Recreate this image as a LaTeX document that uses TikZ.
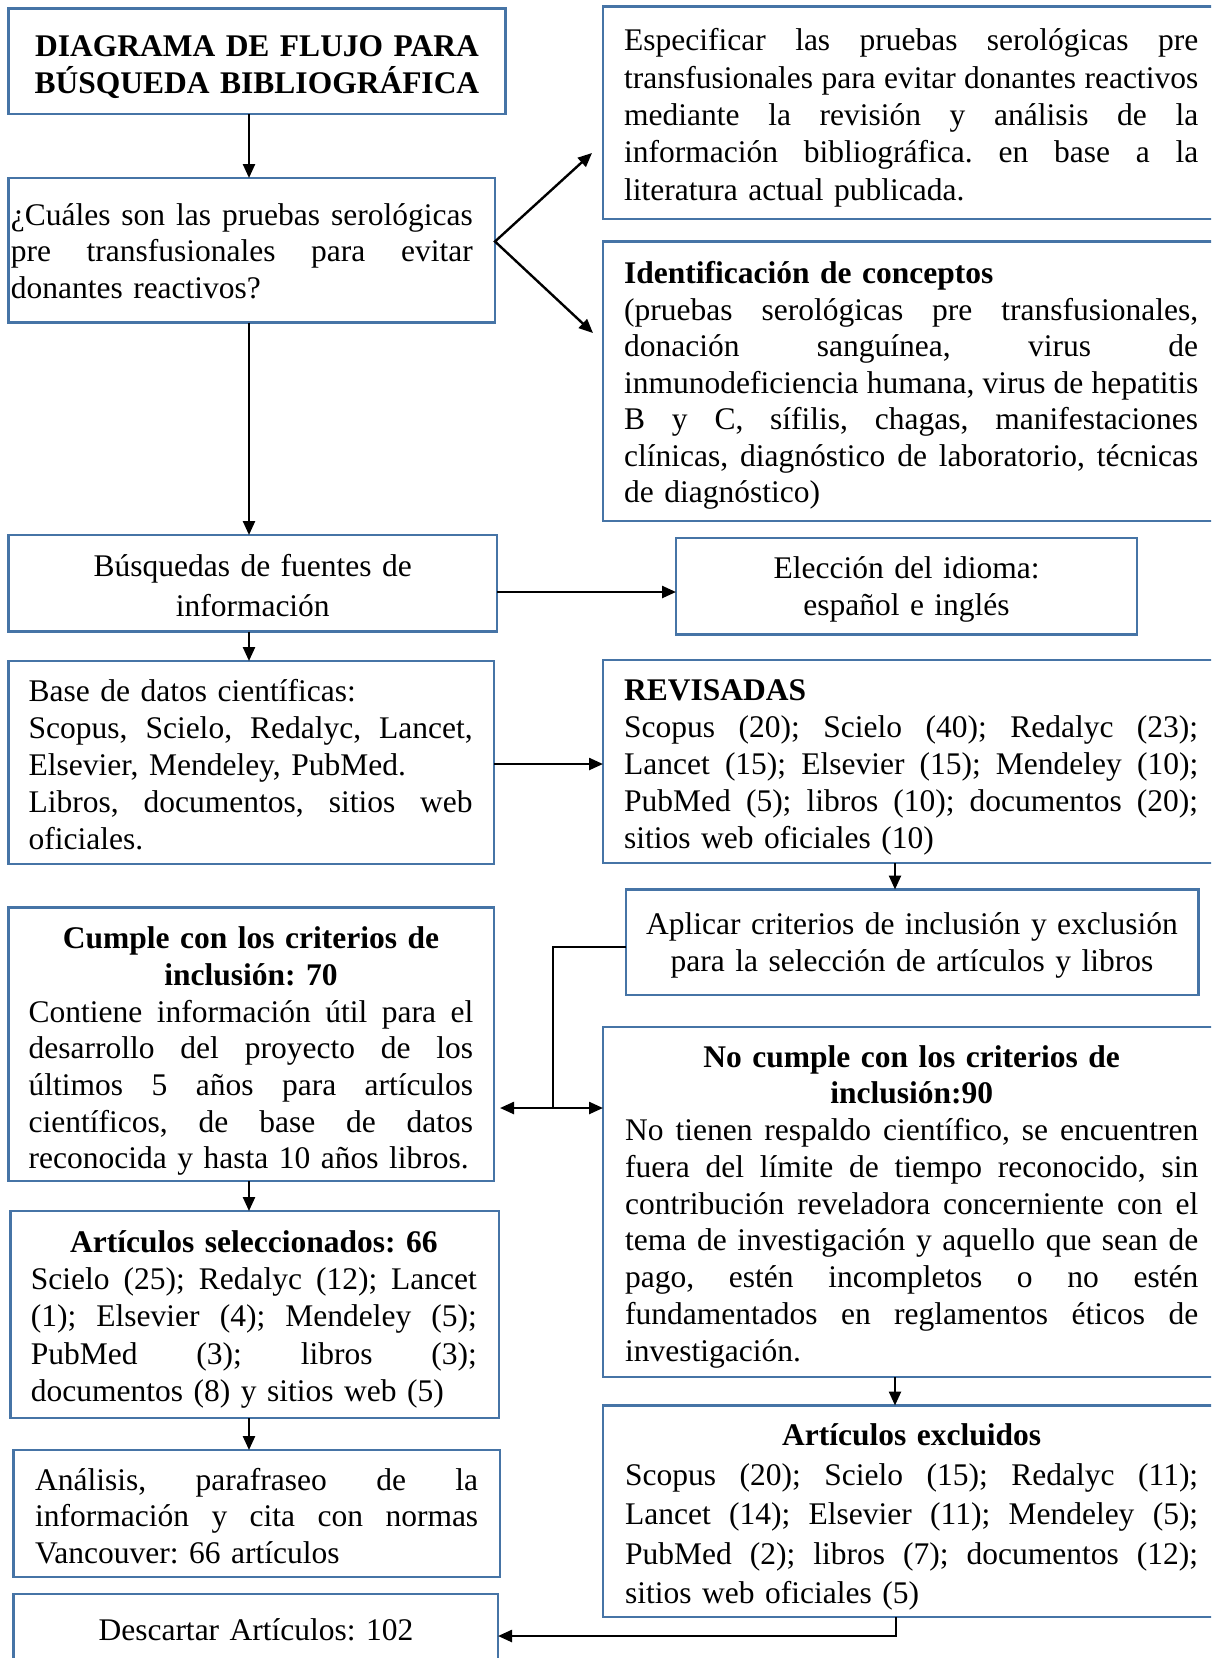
\documentclass[tikz,border=0pt]{standalone}
\usepackage{fontspec}
\setmainfont{Liberation Serif}
\usetikzlibrary{arrows.meta}
\definecolor{boxblue}{RGB}{70,116,166}
\newcommand\jl[1]{{\spaceskip=0.25em plus 10em\xspaceskip=0.25em plus 10em\makebox[\hsize][s]{#1}}}
\newcommand\ctr[1]{\makebox[\hsize][c]{#1}}
\newcommand\fs[1]{\fontsize{31.5}{#1}\selectfont\frenchspacing}
\newcommand\bx[5]{\node[box, minimum width={#4pt-#2pt}, minimum height={#5pt-#3pt}] (#1) at (#2,#3) {};}
\begin{document}
\begin{tikzpicture}[x=1pt,y=-1pt,
  box/.style={draw=boxblue, line width=2.4pt, inner sep=0pt, outer sep=0pt, rectangle, anchor=north west},
  jtext/.style={inner sep=0pt, anchor=base west, align=left},
  ctext/.style={inner sep=0pt, anchor=base, align=center},
  tip/.tip={Triangle[length=14pt,width=12pt]},
  arr/.style={line width=2.4pt, -tip},
  darr/.style={line width=2.4pt, tip-tip},
  plainline/.style={line width=1.6pt}
]
\useasboundingbox (0,0) rectangle (1211,1658);
\fill[white] (0,0) rectangle (1211,1658);
\clip (0,0) rectangle (1211,1658);

% boxes
\bx{title}{8.5}{8.5}{505.5}{114}
\bx{q}{8.5}{178}{495}{322.5}
\bx{A}{603}{6.5}{1219}{219}
\bx{B}{603}{241.5}{1219}{521}
\bx{bus}{8.5}{535}{497}{631.5}
\bx{ele}{676}{538}{1137}{634.5}
\bx{base}{8.5}{661}{494}{864}
\bx{rev}{603}{660}{1219}{863}
\bx{apl}{626}{889.5}{1198.5}{995}
\bx{cum}{8.5}{907.5}{494}{1181}
\bx{noc}{603}{1027}{1219}{1377}
\bx{sel}{10.5}{1211}{499}{1418}
\bx{ana}{13.5}{1450}{500}{1577}
\bx{exc}{603}{1405.5}{1219}{1617}
\bx{des}{13.5}{1594}{498}{1690}

% texts
\node[ctext, text width=480pt, font={\bfseries\fs{37}}] (titlet) at (257,56)
  {DIAGRAMA DE FLUJO PARA\\BÚSQUEDA BIBLIOGRÁFICA};
\node[jtext, text width=462pt, font={\fs{36.5}}] (qt) at (10.6,225.2)
  {\jl{¿Cuáles son las pruebas serológicas}\\
   \jl{pre transfusionales para evitar}\\
   donantes reactivos?};
\node[jtext, text width=574pt, font={\fs{37.3}}] (At) at (624,50.8)
  {\jl{Especificar las pruebas serológicas pre}\\
   \jl{transfusionales para evitar donantes reactivos}\\
   \jl{mediante la revisión y análisis de la}\\
   \jl{información bibliográfica. en base a la}\\
   literatura actual publicada.};
\node[jtext, text width=574pt, font={\fs{36.5}}] (Bt) at (624,283.5)
  {\textbf{Identificación de conceptos}\\
   \jl{(pruebas serológicas pre transfusionales,}\\
   \jl{donación sanguínea, virus de}\\
   \jl{inmunodeficiencia humana, virus de hepatitis}\\
   \jl{B y C, sífilis, chagas, manifestaciones}\\
   \jl{clínicas, diagnóstico de laboratorio, técnicas}\\
   de diagnóstico)};
\node[ctext, text width=480pt, font={\fs{40}}] (bust) at (252.75,576.2)
  {Búsquedas de fuentes de\\información};
\node[ctext, text width=450pt, font={\fs{37}}] (elet) at (906.5,578.5)
  {Elección del idioma:\\español e inglés};
\node[jtext, text width=444pt, font={\fs{37}}] (baset) at (28.5,701.2)
  {Base de datos científicas:\\
   \jl{Scopus, Scielo, Redalyc, Lancet,}\\
   Elsevier, Mendeley, PubMed.\\
   \jl{Libros, documentos, sitios web}\\
   oficiales.};
\node[jtext, text width=574pt, font={\fs{37}}] (revt) at (624,700.2)
  {\textbf{REVISADAS}\\
   \jl{Scopus (20); Scielo (40); Redalyc (23);}\\
   \jl{Lancet (15); Elsevier (15); Mendeley (10);}\\
   \jl{PubMed (5); libros (10); documentos (20);}\\
   sitios web oficiales (10)};
\node[ctext, text width=560pt, font={\fs{37}}] (aplt) at (912,934.9)
  {Aplicar criterios de inclusión y exclusión\\para la selección de artículos y libros};
\node[jtext, text width=444.5pt, font={\fs{36.7}}] (cumt) at (28.5,948.7)
  {\ctr{\bfseries Cumple con los criterios de}\\
   \ctr{\bfseries inclusión: 70}\\
   \jl{Contiene información útil para el}\\
   \jl{desarrollo del proyecto de los}\\
   \jl{últimos 5 años para artículos}\\
   \jl{científicos, de base de datos}\\
   reconocida y hasta 10 años libros.};
\node[jtext, text width=573pt, font={\fs{36.75}}] (noct) at (625,1067.2)
  {\ctr{\bfseries No cumple con los criterios de}\\
   \ctr{\bfseries inclusión:90}\\
   \jl{No tienen respaldo científico, se encuentren}\\
   \jl{fuera del límite de tiempo reconocido, sin}\\
   \jl{contribución reveladora concerniente con el}\\
   \jl{tema de investigación y aquello que sean de}\\
   \jl{pago, estén incompletos o no estén}\\
   \jl{fundamentados en reglamentos éticos de}\\
   investigación.};
\node[jtext, text width=446pt, font={\fs{37.3}}] (selt) at (30.7,1252.2)
  {\ctr{\bfseries Artículos seleccionados: 66}\\
   \jl{Scielo (25); Redalyc (12); Lancet}\\
   \jl{(1); Elsevier (4); Mendeley (5);}\\
   \jl{PubMed (3); libros (3);}\\
   documentos (8) y sitios web (5)};
\node[jtext, text width=443pt, font={\fs{36.5}}] (anat) at (35,1490.2)
  {\jl{Análisis, parafraseo de la}\\
   \jl{información y cita con normas}\\
   Vancouver: 66 artículos};
\node[jtext, text width=573pt, font={\fs{39.4}}] (exct) at (625,1445.8)
  {\ctr{\bfseries Artículos excluidos}\\
   \jl{Scopus (20); Scielo (15); Redalyc (11);}\\
   \jl{Lancet (14); Elsevier (11); Mendeley (5);}\\
   \jl{PubMed (2); libros (7); documentos (12);}\\
   sitios web oficiales (5)};
\node[ctext, text width=470pt, font={\fs{37}}] (dest) at (256,1640.2)
  {Descartar Artículos: 102};

% connector coordinates
\coordinate (lx) at (249,0);
\coordinate (qs) at (0,241.5);
\coordinate (ta) at (592,153);
\coordinate (tb) at (593,333);
\coordinate (by) at (0,592);
\coordinate (ry) at (0,764);
\coordinate (rx) at (895,0);
\coordinate (ay) at (0,946.7);
\coordinate (jn) at (552.7,1108);
\coordinate (dy) at (0,1636);
\coordinate (ex) at (896,0);

% connectors
\draw[arr] (title.south -| lx) -- (q.north -| lx);
\draw[darr] (ta) -- (q.east |- qs) -- (tb);
\draw[arr] (q.south -| lx) -- (bus.north -| lx);
\draw[arr] (bus.east |- by) -- (ele.west |- by);
\draw[arr] (bus.south -| lx) -- (base.north -| lx);
\draw[arr] (base.east |- ry) -- (rev.west |- ry);
\draw[arr] (rev.south -| rx) -- (apl.north -| rx);
\draw[plainline] (apl.west |- ay) -| (jn);
\draw[darr] ([xshift=6pt]cum.east |- jn) -- (noc.west |- jn);
\draw[arr] (cum.south -| lx) -- (sel.north -| lx);
\draw[arr] (sel.south -| lx) -- (ana.north -| lx);
\draw[arr] (noc.south -| rx) -- (exc.north -| rx);
\draw[arr] (exc.south -| ex) |- (des.east |- dy);
\end{tikzpicture}
\end{document}
